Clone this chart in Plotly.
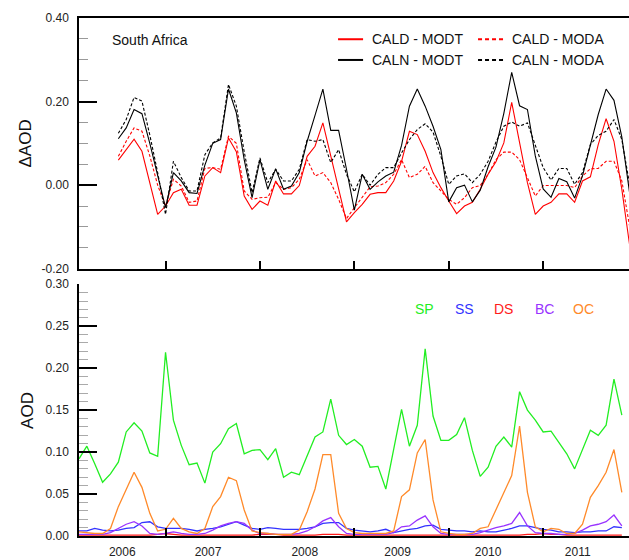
import plotly.graph_objects as go
import pandas as pd

# ---------------- data ----------------
months = pd.date_range("2005-08-01", periods=71, freq="MS").strftime("%b %Y").tolist()
month_idx = list(range(len(months)))

years = ["2006", "2007", "2008", "2009", "2010", "2011"]
year_label_pos = [5.5, 16.4, 28.7, 40.5, 52.0, 63.4]

# top panel (Jan 2006 .. Jun 2011) : index 5..70
cald_modt = [0.060, 0.085, 0.110, 0.081, 0.006, -0.070, -0.050, -0.018, -0.010, -0.048,
             -0.048, 0.022, 0.042, 0.030, 0.113, 0.080, -0.026, -0.058, -0.038, -0.048,
             0.010, -0.021, -0.021, -0.001, 0.069, 0.093, 0.149, 0.069, -0.010, -0.088,
             -0.066, -0.046, -0.022, -0.018, -0.018, 0.010, 0.057, 0.129, 0.121, 0.081,
             0.030, -0.006, -0.038, -0.068, -0.050, -0.041, -0.010, 0.026, 0.056, 0.101,
             0.198, 0.101, 0.006, -0.070, -0.050, -0.041, -0.021, -0.021, -0.041, 0.010,
             0.020, 0.097, 0.159, 0.105, -0.010, -0.145]
cald_moda = [0.069, 0.105, 0.137, 0.129, 0.070, 0.000, -0.050, 0.014, -0.002, -0.041,
             -0.038, 0.040, 0.042, 0.038, 0.117, 0.100, -0.014, -0.034, -0.030, -0.029,
             0.006, -0.010, -0.006, 0.014, 0.061, 0.022, 0.030, 0.006, -0.034, -0.080,
             -0.054, -0.030, -0.004, -0.002, 0.006, 0.026, 0.061, 0.018, 0.026, 0.045,
             0.006, -0.014, -0.034, -0.046, -0.030, -0.006, -0.001, 0.026, 0.061, 0.079,
             0.079, 0.061, 0.018, -0.026, -0.001, -0.001, -0.001, -0.001, -0.006, 0.022,
             0.039, 0.040, 0.057, 0.057, 0.010, -0.100]
caln_modt = [0.111, 0.137, 0.181, 0.171, 0.100, 0.025, -0.054, 0.030, 0.010, -0.018,
             -0.020, 0.048, 0.100, 0.109, 0.230, 0.173, 0.061, -0.030, 0.061, -0.010,
             0.039, -0.010, -0.002, 0.030, 0.105, 0.167, 0.230, 0.131, 0.131, 0.038,
             -0.060, 0.026, -0.010, 0.008, 0.022, 0.031, 0.095, 0.189, 0.230, 0.189,
             0.141, 0.085, -0.040, -0.006, 0.000, -0.040, -0.012, 0.044, 0.091, 0.172,
             0.270, 0.190, 0.181, 0.070, -0.009, -0.029, 0.016, 0.008, -0.031, 0.022,
             0.097, 0.169, 0.230, 0.203, 0.115, -0.020]
caln_moda = [0.124, 0.157, 0.210, 0.201, 0.120, 0.030, -0.070, 0.057, 0.018, -0.014,
             -0.014, 0.073, 0.101, 0.113, 0.241, 0.189, 0.080, -0.018, 0.065, 0.006,
             0.038, 0.010, 0.010, 0.038, 0.109, 0.105, 0.109, 0.054, 0.085, 0.026,
             -0.016, 0.026, 0.000, 0.026, 0.042, 0.042, 0.077, 0.109, 0.133, 0.147,
             0.127, 0.069, 0.002, 0.022, 0.027, 0.006, 0.026, 0.057, 0.103, 0.141,
             0.151, 0.141, 0.149, 0.093, 0.042, 0.012, 0.040, 0.040, 0.002, 0.030,
             0.097, 0.119, 0.129, 0.157, 0.109, 0.000]

# bottom panel (Aug 2005 .. May 2011) : index 0..69
sp = [0.092, 0.107, 0.086, 0.064, 0.074, 0.088, 0.124, 0.135, 0.125, 0.099,
      0.095, 0.219, 0.138, 0.108, 0.085, 0.087, 0.063, 0.100, 0.110, 0.128,
      0.134, 0.098, 0.102, 0.103, 0.091, 0.104, 0.070, 0.076, 0.073, 0.096,
      0.118, 0.124, 0.163, 0.120, 0.109, 0.115, 0.107, 0.082, 0.083, 0.056,
      0.102, 0.151, 0.107, 0.132, 0.223, 0.143, 0.114, 0.114, 0.121, 0.141,
      0.102, 0.071, 0.082, 0.107, 0.118, 0.106, 0.172, 0.150, 0.138, 0.124,
      0.125, 0.111, 0.098, 0.080, 0.102, 0.126, 0.120, 0.132, 0.187, 0.144]
ss = [0.006, 0.006, 0.009, 0.007, 0.006, 0.007, 0.009, 0.010, 0.016, 0.017,
      0.011, 0.009, 0.009, 0.009, 0.008, 0.006, 0.008, 0.009, 0.011, 0.014,
      0.017, 0.013, 0.009, 0.008, 0.010, 0.009, 0.008, 0.008, 0.008, 0.009,
      0.011, 0.015, 0.016, 0.016, 0.009, 0.007, 0.006, 0.005, 0.006, 0.008,
      0.004, 0.006, 0.008, 0.009, 0.012, 0.013, 0.008, 0.007, 0.006, 0.006,
      0.005, 0.006, 0.005, 0.005, 0.007, 0.009, 0.012, 0.012, 0.010, 0.008,
      0.007, 0.005, 0.005, 0.004, 0.005, 0.005, 0.006, 0.006, 0.011, 0.010]
ds = [0.001, 0.001, 0.001, 0.001, 0.001, 0.001, 0.001, 0.001, 0.001, 0.001,
      0.002, 0.003, 0.002, 0.001, 0.001, 0.001, 0.001, 0.001, 0.001, 0.001,
      0.001, 0.001, 0.001, 0.002, 0.002, 0.002, 0.001, 0.001, 0.001, 0.001,
      0.001, 0.002, 0.002, 0.002, 0.001, 0.001, 0.001, 0.001, 0.001, 0.001,
      0.001, 0.001, 0.001, 0.001, 0.001, 0.001, 0.001, 0.001, 0.001, 0.001,
      0.001, 0.001, 0.001, 0.001, 0.001, 0.001, 0.001, 0.002, 0.002, 0.003,
      0.002, 0.002, 0.001, 0.001, 0.001, 0.001, 0.001, 0.001, 0.001, 0.001]
bc = [0.002, 0.002, 0.002, 0.002, 0.004, 0.009, 0.014, 0.017, 0.012, 0.003,
      0.002, 0.003, 0.005, 0.003, 0.002, 0.002, 0.003, 0.007, 0.012, 0.015,
      0.017, 0.015, 0.007, 0.003, 0.003, 0.002, 0.002, 0.002, 0.003, 0.006,
      0.011, 0.018, 0.022, 0.011, 0.003, 0.002, 0.002, 0.002, 0.002, 0.002,
      0.004, 0.011, 0.012, 0.019, 0.024, 0.011, 0.003, 0.002, 0.002, 0.002,
      0.002, 0.004, 0.007, 0.010, 0.012, 0.015, 0.028, 0.012, 0.004, 0.003,
      0.003, 0.002, 0.002, 0.003, 0.007, 0.012, 0.014, 0.017, 0.025, 0.012]
oc = [0.005, 0.004, 0.003, 0.003, 0.009, 0.035, 0.056, 0.076, 0.058, 0.027,
      0.006, 0.008, 0.021, 0.009, 0.005, 0.003, 0.009, 0.035, 0.047, 0.070,
      0.066, 0.031, 0.006, 0.004, 0.003, 0.002, 0.002, 0.002, 0.007, 0.029,
      0.056, 0.097, 0.097, 0.027, 0.009, 0.004, 0.003, 0.003, 0.003, 0.003,
      0.006, 0.047, 0.055, 0.099, 0.115, 0.043, 0.005, 0.003, 0.002, 0.002,
      0.003, 0.009, 0.011, 0.031, 0.051, 0.072, 0.131, 0.052, 0.011, 0.005,
      0.009, 0.008, 0.003, 0.003, 0.014, 0.046, 0.060, 0.076, 0.103, 0.052]

top_ticklabels = ["-0.20", "0.00", "0.20", "0.40"]

# ---------------- figure ----------------
FONT = "Liberation Sans, Arial, Helvetica, sans-serif"
top_x = month_idx[5:5 + len(cald_modt)]
top_m = months[5:5 + len(cald_modt)]
bot_x = month_idx[:len(sp)]
bot_m = months[:len(sp)]

fig = go.Figure()

top_series = [
    ("CALD - MODA", cald_moda, "#ff0000", "3px,2px"),
    ("CALD - MODT", cald_modt, "#ff0000", "solid"),
    ("CALN - MODA", caln_moda, "#000000", "3px,2px"),
    ("CALN - MODT", caln_modt, "#000000", "solid"),
]
for name, vals, col, dash in top_series:
    fig.add_trace(go.Scatter(x=top_x, y=vals, text=top_m, name=name, mode="lines",
                             line=dict(color=col, width=1.1, dash=dash),
                             xaxis="x", yaxis="y", showlegend=False))

bot_series = [
    ("DS", ds, "#ff1a1a"),
    ("SS", ss, "#3333ff"),
    ("BC", bc, "#9933ff"),
    ("OC", oc, "#ff8a2a"),
    ("SP", sp, "#22ee22"),
]
for name, vals, col in bot_series:
    fig.add_trace(go.Scatter(x=bot_x, y=vals, text=bot_m, name=name, mode="lines",
                             line=dict(color=col, width=1.3),
                             xaxis="x2", yaxis="y2", showlegend=False))

xr = [0, 69.91]
tickfont = dict(family=FONT, size=12, color="#222")

fig.update_layout(
    width=629, height=560,
    margin=dict(l=79, r=0, t=18, b=24, autoexpand=False),
    paper_bgcolor="white", plot_bgcolor="white",
    font=dict(family=FONT, color="#222"),
    xaxis=dict(domain=[0, 1], anchor="y", range=xr, showgrid=False, zeroline=False,
               showline=True, linecolor="black", linewidth=1.5, mirror=True,
               tickmode="linear", tick0=11, dtick=12, ticks="inside", ticklen=8,
               tickwidth=2, tickcolor="black", showticklabels=False),
    xaxis2=dict(domain=[0, 1], anchor="y2", range=xr, showgrid=False, zeroline=False,
                showline=True, linecolor="black", linewidth=1.5, automargin=False,
                tickmode="array", tickvals=year_label_pos, ticktext=years, ticks="",
                tickfont=tickfont, ticklabelstandoff=4,
                minor=dict(tickmode="linear", tick0=11, dtick=12, ticks="inside",
                           ticklen=8, tickwidth=2, tickcolor="black", showgrid=False)),
    yaxis=dict(domain=[0.516, 1], anchor="x", range=[-0.2, 0.4], showgrid=False,
               zeroline=False, showline=True, linecolor="black", linewidth=1.5,
               automargin=False,
               tickmode="array", tickvals=[-0.2, 0.0, 0.2, 0.4], ticktext=top_ticklabels,
               ticks="inside", ticklen=18, tickwidth=2, tickcolor="black",
               tickfont=tickfont, ticklabelstandoff=6,
               minor=dict(tickmode="linear", tick0=-0.2, dtick=0.05, ticks="inside",
                          ticklen=9, tickwidth=1, tickcolor="#999", showgrid=False)),
    yaxis2=dict(domain=[0, 0.486], anchor="x2", range=[0, 0.3], showgrid=False,
                zeroline=False, showline=True, linecolor="black", linewidth=1.5,
                automargin=False,
                tickmode="linear", tick0=0, dtick=0.05, tickformat=".2f",
                ticks="inside", ticklen=18, tickwidth=2, tickcolor="black",
                tickfont=tickfont, ticklabelstandoff=6,
                minor=dict(tickmode="linear", tick0=0, dtick=0.01, ticks="inside",
                           ticklen=9, tickwidth=1, tickcolor="#aaa", showgrid=False)),
    yaxis3=dict(overlaying="y", side="right", anchor="x", range=[-0.2, 0.4],
                showgrid=False, zeroline=False, showline=False, automargin=False,
                tickmode="linear", tick0=-0.2, dtick=0.2, ticks="inside", ticklen=9,
                tickwidth=2, tickcolor="black", showticklabels=False),
    yaxis4=dict(overlaying="y2", side="right", anchor="x2", range=[0, 0.3],
                showgrid=False, zeroline=False, showline=False, automargin=False,
                tickmode="linear", tick0=0, dtick=0.05, ticks="inside", ticklen=11,
                tickwidth=2, tickcolor="black", showticklabels=False),
)

ann = []
ann.append(dict(text="South Africa", xref="paper", yref="paper", x=0.0564, y=0.9575,
                xanchor="left", yanchor="middle", showarrow=False,
                font=dict(family=FONT, size=14, color="#111")))
ann.append(dict(text="ΔAOD", xref="paper", yref="paper", x=-0.097, y=0.757,
                xanchor="center", yanchor="middle", textangle=-90, showarrow=False,
                font=dict(family=FONT, size=17, color="#111")))
ann.append(dict(text="AOD", xref="paper", yref="paper", x=-0.095, y=0.243,
                xanchor="center", yanchor="middle", textangle=-90, showarrow=False,
                font=dict(family=FONT, size=17, color="#111")))

# top legend (2 x 2)
leg_items = [
    ("CALD - MODT", "#ff0000", "solid", 0.471, 0.959),
    ("CALD - MODA", "#ff0000", "4px,3px", 0.7255, 0.959),
    ("CALN - MODT", "#000000", "solid", 0.471, 0.919),
    ("CALN - MODA", "#000000", "4px,3px", 0.7255, 0.919),
]
shapes = []
for name, col, dash, x0, y0 in leg_items:
    shapes.append(dict(type="line", xref="paper", yref="paper", x0=x0, x1=x0 + 0.0455,
                       y0=y0, y1=y0, line=dict(color=col, width=2, dash=dash)))
    ann.append(dict(text=name, xref="paper", yref="paper", x=x0 + 0.058, y=y0,
                    xanchor="left", yanchor="middle", showarrow=False,
                    font=dict(family=FONT, size=14, color="#111")))

# bottom legend
bot_leg_x = {"SP": 0.629, "SS": 0.7018, "DS": 0.7727, "BC": 0.8455, "OC": 0.9164}
for name, vals, col in bot_series:
    ann.append(dict(text=name, xref="paper", yref="paper", x=bot_leg_x[name], y=0.438,
                    xanchor="center", yanchor="middle", showarrow=False,
                    font=dict(family=FONT, size=14, color=col)))

fig.update_layout(annotations=ann, shapes=shapes)
fig.write_html("out.html")
